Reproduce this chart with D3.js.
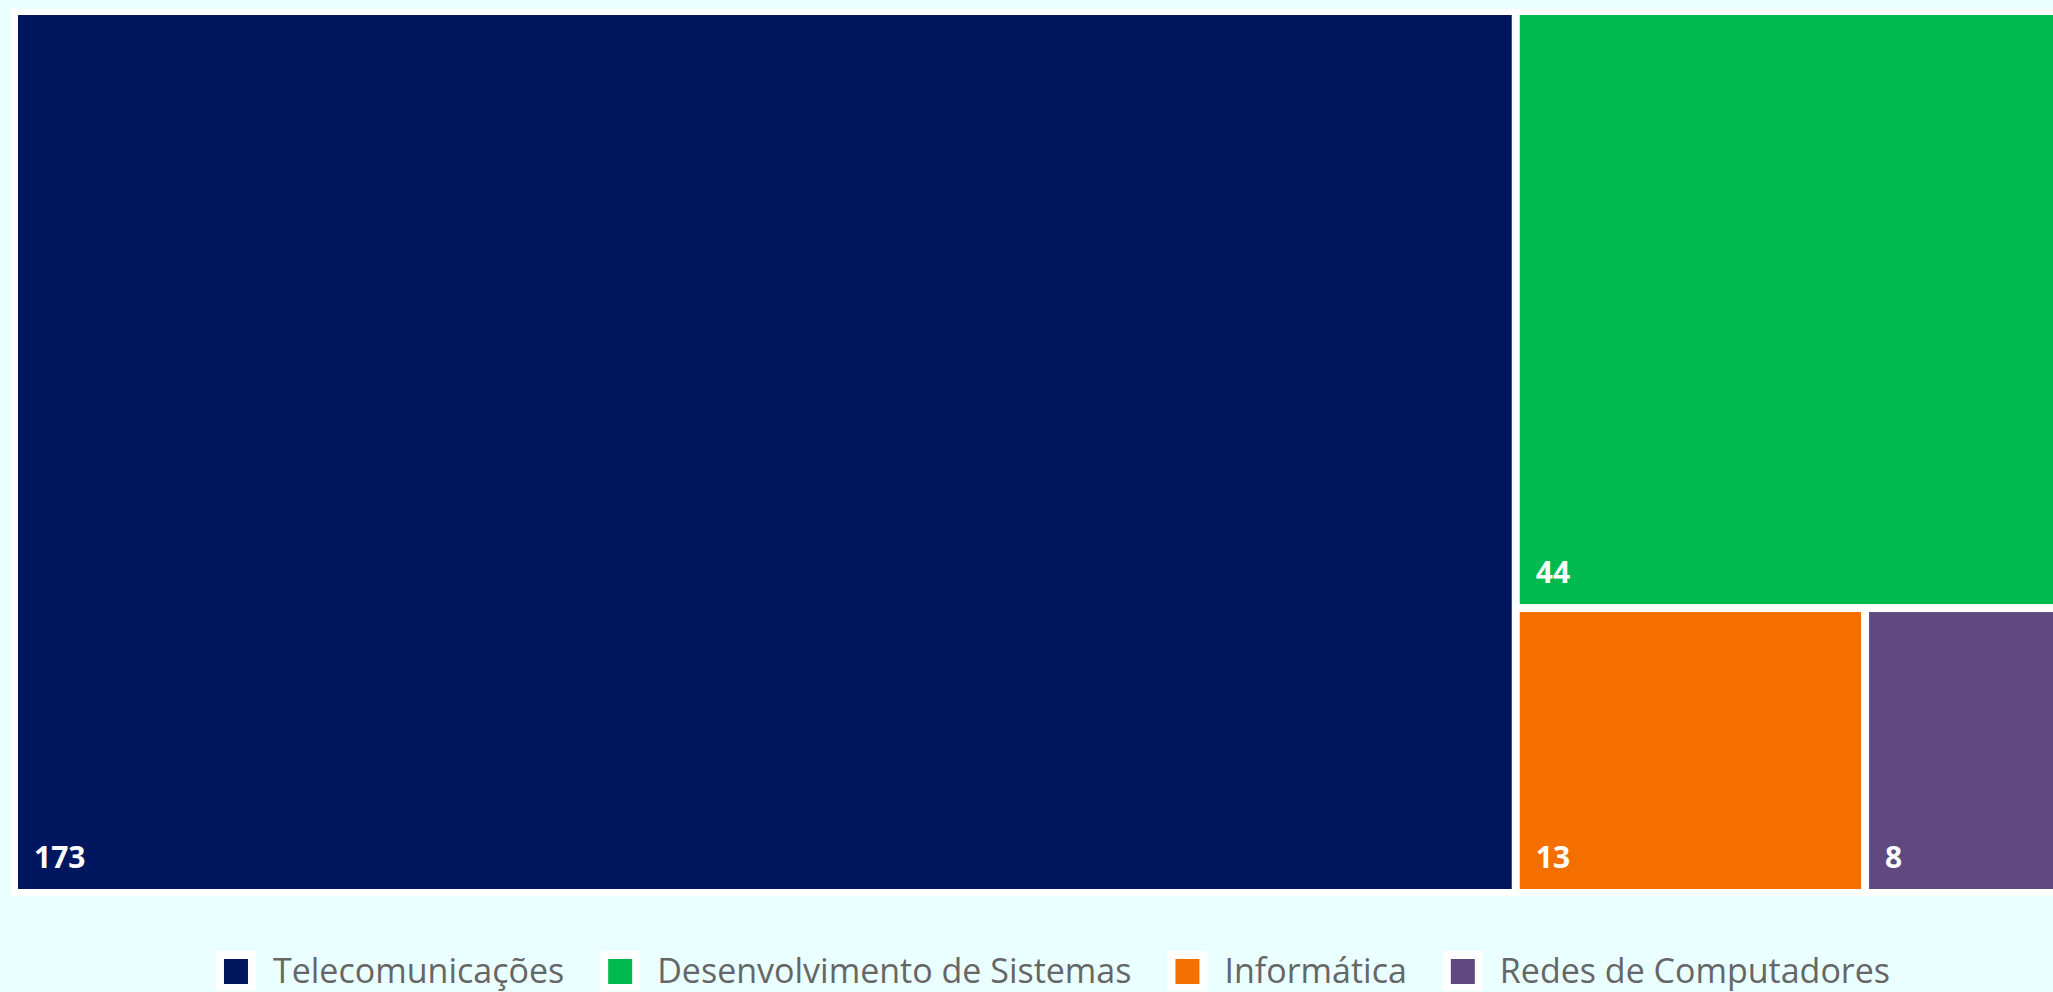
<!DOCTYPE html>
<html>
<head>
<meta charset="utf-8">
<script src="https://cdn.jsdelivr.net/npm/d3@7"></script>
<style>
  body { margin: 0; background: #eaffff; overflow: hidden; }
  svg { display: block; }
</style>
</head>
<body>
<div id="chart"></div>
<script>
// data
var categories = ["Telecomunicações", "Desenvolvimento de Sistemas", "Informática", "Redes de Computadores"];
var counts = [173, 44, 13, 8];
var colors = ["#00175f", "#00ba4e", "#f56f00", "#604880"];

var width = 2053, height = 992;

var svg = d3.select("#chart")
  .append("svg")
  .attr("width", width)
  .attr("height", height);

// white plot background
svg.append("rect")
  .attr("x", 11)
  .attr("y", 9)
  .attr("width", width)
  .attr("height", 887)
  .attr("fill", "#ffffff");

var rows = categories.map(function (c, i) { return { name: c, value: counts[i], color: colors[i] }; });

var root = d3.hierarchy({ children: rows })
  .sum(function (d) { return d.value || 0; })
  .sort(function (a, b) { return b.value - a.value; });

d3.treemap()
  .size([2058, 874])
  .paddingInner(8)
  .tile(d3.treemapSquarify)(root);

var g = svg.append("g").attr("transform", "translate(18,15)");

var cell = g.selectAll("g.cell")
  .data(root.leaves())
  .join("g")
  .attr("class", "cell");

cell.append("rect")
  .attr("x", function (d) { return d.x0; })
  .attr("y", function (d) { return d.y0; })
  .attr("width", function (d) { return d.x1 - d.x0; })
  .attr("height", function (d) { return d.y1 - d.y0; })
  .attr("fill", function (d) { return d.data.color; });

cell.append("text")
  .attr("x", function (d) { return d.x0 + 16; })
  .attr("y", function (d) { return d.y1 - 21; })
  .attr("fill", "#ffffff")
  .style("font-family", "'Open Sans', sans-serif")
  .style("font-weight", "700")
  .style("font-size", "30px")
  .text(function (d) { return d.data.value; });

// legend
var legend = svg.append("g").attr("class", "legend");
var item = legend.selectAll("g")
  .data(rows)
  .join("g");

item.append("rect")
  .attr("x", 0).attr("y", -20)
  .attr("width", 40).attr("height", 40)
  .attr("fill", "#ffffff");
item.append("rect")
  .attr("x", 8).attr("y", -12)
  .attr("width", 24).attr("height", 25)
  .attr("fill", function (d) { return d.color; });
item.append("text")
  .attr("x", 57)
  .attr("y", 12)
  .attr("fill", "#666666")
  .style("font-family", "'Open Sans', sans-serif")
  .style("font-size", "34px")
  .text(function (d) { return d.name; });

var xpos = 0;
item.each(function () {
  var w = this.querySelector("text").getComputedTextLength();
  d3.select(this).attr("transform", "translate(" + xpos + ",0)");
  xpos += 57 + w + 36;
});
var total = xpos - 36;
legend.attr("transform", "translate(" + (1053 - total / 2) + ",971)");
</script>
</body>
</html>
